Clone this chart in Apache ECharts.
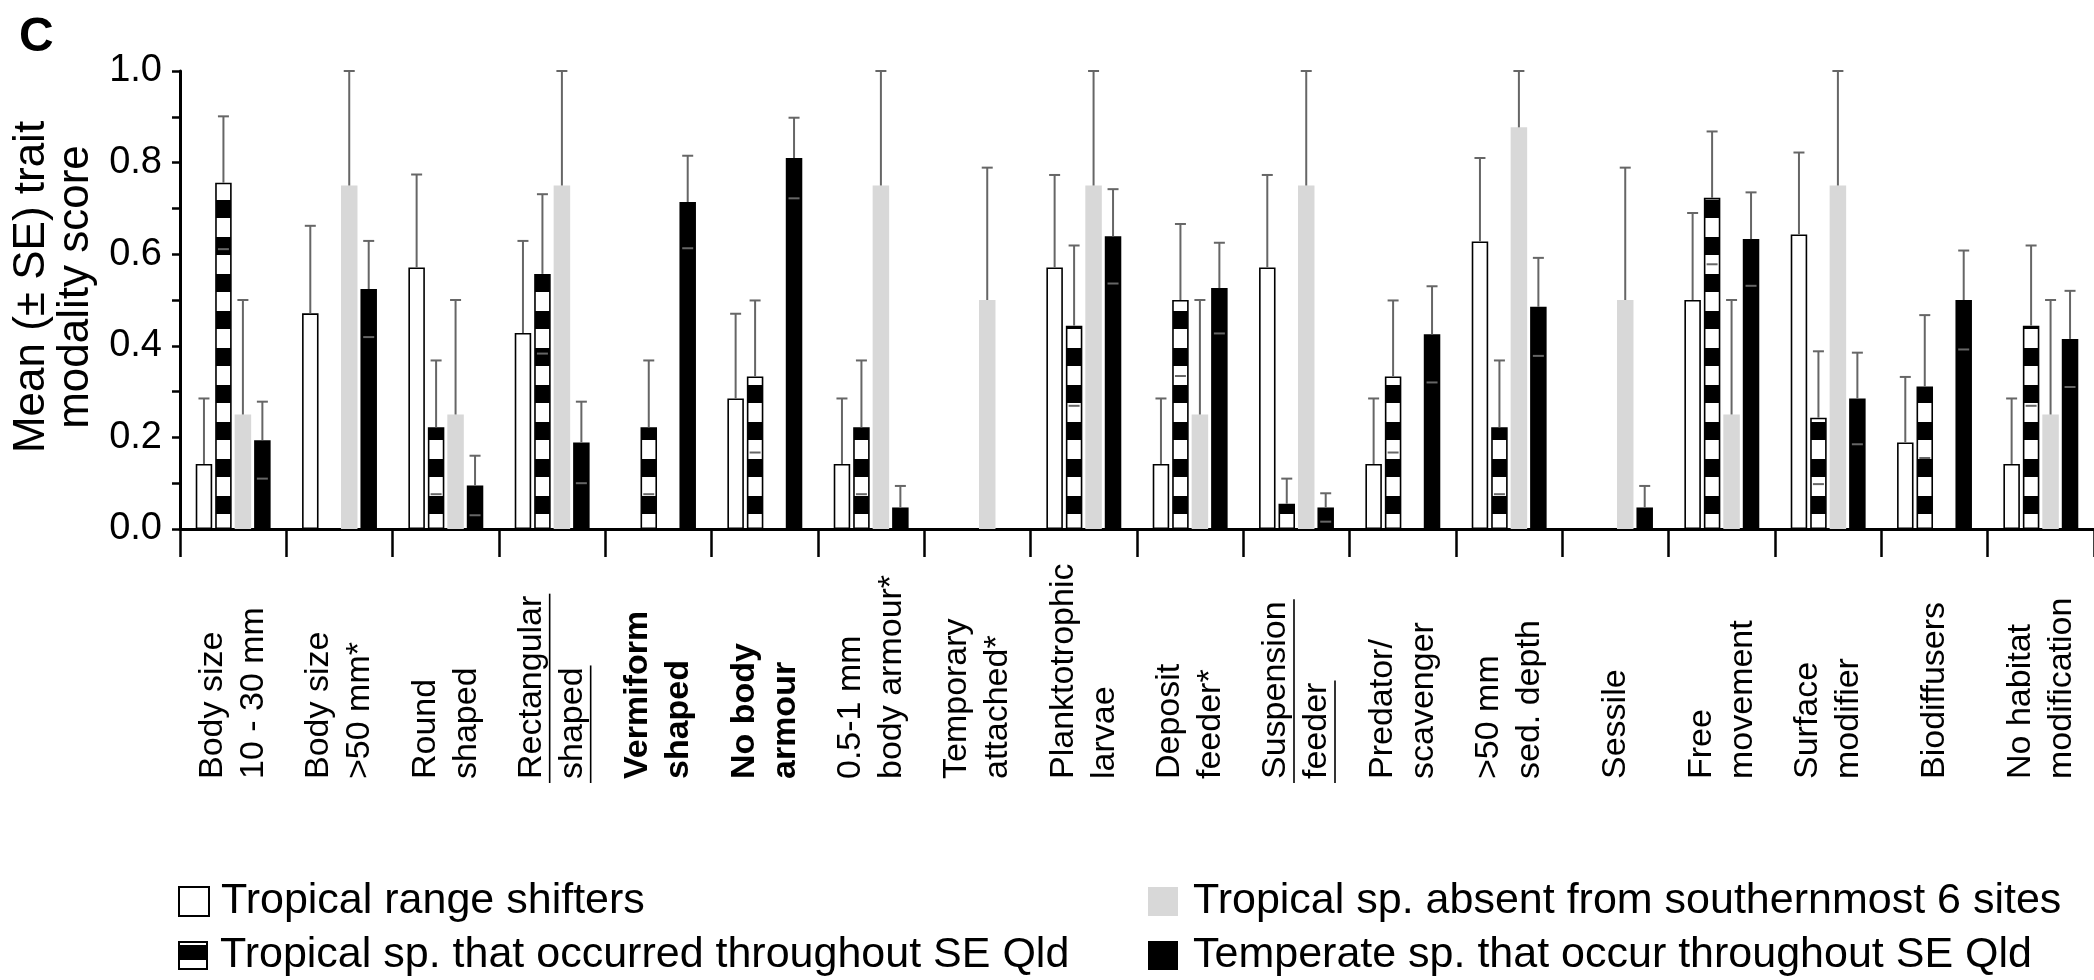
<!DOCTYPE html>
<html><head><meta charset="utf-8">
<script src="https://cdn.jsdelivr.net/npm/echarts@6/dist/echarts.min.js"></script>
<style>html,body{margin:0;padding:0;background:#fff}#c{width:2094px;height:980px}</style>
</head><body><div id="c"></div>
<script>
// ---------- data ----------
const categories = ['Body size\n10 - 30 mm','Body size\n>50 mm*','Round\nshaped','Rectangular\nshaped','Vermiform\nshaped','No body\narmour','0.5-1 mm\nbody armour*','Temporary\nattached*','Planktotrophic\nlarvae','Deposit\nfeeder*','Suspension\nfeeder','Predator/\nscavenger','>50 mm\nsed. depth','Sessile','Free\nmovement','Surface\nmodifier','Biodiffusers','No habitat\nmodification'];
const boldCategories = ['Vermiform\nshaped','No body\narmour'];
const underlinedCategories = ['Rectangular\nshaped','Suspension\nfeeder'];
const seriesNames = ['Tropical range shifters','Tropical sp. that occurred throughout SE Qld','Tropical sp. absent from southernmost 6 sites','Temperate sp. that occur throughout SE Qld'];
const yTicks = ['0.0','0.2','0.4','0.6','0.8','1.0'];

const rangeShifters   = [0.142,0.471,0.571,0.428,null,0.285,0.142,null,0.571,0.142,0.571,0.142,0.628,null,0.5,0.643,0.189,0.142];
const rangeShiftersSE = [0.143,0.191,0.203,0.201,null,0.185,0.143,null,0.202,0.143,0.202,0.143,0.182,null,0.19,0.179,0.143,0.143];
const tropThroughout   = [0.756,null,0.222,0.557,0.222,0.333,0.222,null,0.444,0.5,0.055,0.333,0.222,null,0.723,0.243,0.311,0.444];
const tropThroughoutSE = [0.145,null,0.146,0.174,0.146,0.166,0.146,null,0.175,0.166,0.055,0.166,0.146,null,0.145,0.145,0.156,0.175];
const tropAbsent   = [0.25,0.75,0.25,0.75,null,null,0.75,0.5,0.75,0.25,0.75,null,0.877,0.5,0.25,0.75,null,0.25];
const tropAbsentSE = [0.25,0.25,0.25,0.25,null,null,0.25,0.289,0.25,0.25,0.25,null,0.123,0.289,0.25,0.25,null,0.25];
const temperate   = [0.194,0.524,0.095,0.189,0.714,0.81,0.047,null,0.639,0.526,0.047,0.425,0.485,0.047,0.633,0.285,0.5,0.415];
const temperateSE = [0.084,0.105,0.065,0.089,0.101,0.088,0.047,null,0.103,0.099,0.031,0.105,0.107,0.047,0.102,0.1,0.108,0.105];

const means = [rangeShifters, tropThroughout, tropAbsent, temperate];
const ses = [rangeShiftersSE, tropThroughoutSE, tropAbsentSE, temperateSE];

// ---------- layout / style ----------
const GRID_TOP = 71, GRID_BOTTOM = 451, GRID_LEFT = 180;
const ZERO_Y = 980 - GRID_BOTTOM;
const BAR_W = 16.5, BAR_GAP = 0.18;
const STEP = BAR_W * (1 + BAR_GAP);
const LABEL_FS = 34, LABEL_LH = 41, LABEL_MARGIN = 250;
const FONT = '"Liberation Sans", Arial, Helvetica, sans-serif';

// striped pattern, phase anchored on the zero line
function stripePattern() {
  const P = 37, cv = document.createElement('canvas');
  cv.width = 8; cv.height = P;
  const ctx = cv.getContext('2d');
  for (let y = 0; y < P; y++) {
    const t = (((ZERO_Y - (y + 0.5)) % P) + P) % P;
    ctx.fillStyle = (t < 15 || t >= 33.5) ? '#ffffff' : '#000000';
    ctx.fillRect(0, y, 8, 1);
  }
  return { image: cv, repeat: 'repeat' };
}
// legend swatch for the striped series
function stripeIcon() {
  const cv = document.createElement('canvas');
  cv.width = 30; cv.height = 29;
  const c = cv.getContext('2d');
  c.fillStyle = '#000'; c.fillRect(0, 0, 30, 29);
  c.fillStyle = '#fff';
  c.fillRect(2, 2, 26, 2);
  c.fillRect(2, 19, 26, 8);
  return 'image://' + cv.toDataURL();
}

const styles = [
  { color: '#ffffff', borderColor: '#000', borderWidth: 1.6 },
  { color: stripePattern(), borderColor: '#000', borderWidth: 1.6 },
  { color: '#d8d8d8', borderWidth: 0 },
  { color: '#000000', borderWidth: 0 }
];

const barSeries = means.map((arr, s) => ({
  type: 'bar', name: seriesNames[s],
  data: arr.map(v => v == null ? '-' : v),
  barWidth: BAR_W, barGap: (BAR_GAP * 100) + '%',
  itemStyle: styles[s], z: 2, silent: true
}));

const errData = [];
means.forEach((arr, s) => arr.forEach((v, i) => {
  if (v != null && ses[s][i] != null) errData.push([i, s, v, ses[s][i]]);
}));
const lowerCapSeries = [1, 3];

const errSeries = {
  type: 'custom', name: 'SE', z: 5, silent: true,
  data: errData, encode: { x: 0, y: 2 },
  renderItem: function (params, api) {
    const cat = api.value(0), s = api.value(1), m = api.value(2), se = api.value(3);
    const x = api.coord([cat, 0])[0] + (s - 1.5) * STEP;
    const yM = api.coord([cat, m])[1], yT = api.coord([cat, m + se])[1];
    const st = { stroke: '#666', lineWidth: 2 };
    const ch = [
      { type: 'line', shape: { x1: x, y1: yM, x2: x, y2: yT }, style: st },
      { type: 'line', shape: { x1: x - 5.5, y1: yT, x2: x + 5.5, y2: yT }, style: st }
    ];
    if (lowerCapSeries.indexOf(s) >= 0 && m - se > 0.01) {
      const yL = api.coord([cat, m - se])[1];
      ch.push({ type: 'line', shape: { x1: x - 5.5, y1: yL, x2: x + 5.5, y2: yL }, style: st });
    }
    return { type: 'group', children: ch };
  }
};

const legendPos = [[178, 880], [178, 934], [1148, 880], [1148, 934]];
const legends = seriesNames.map((n, s) => ({
  orient: 'horizontal', left: legendPos[s][0], top: legendPos[s][1], padding: 0,
  itemWidth: 30, itemHeight: 29, icon: 'rect', selectedMode: false,
  data: [s === 1 ? { name: n, icon: stripeIcon() } : n],
  textStyle: { fontSize: 43, fontFamily: FONT, color: '#000', padding: [0, 0, 0, s < 2 ? 7 : 10] }
}));

const chart = echarts.init(document.getElementById('c'), null, { renderer: 'canvas', width: 2094, height: 980 });
chart.setOption({
  animation: false,
  backgroundColor: '#fff',
  title: { text: 'C', left: 14, top: 9, textStyle: { fontSize: 48, fontWeight: 'bold', fontFamily: FONT, color: '#000' } },
  grid: { left: GRID_LEFT, right: 0, top: GRID_TOP, bottom: GRID_BOTTOM, containLabel: false },
  legend: legends,
  xAxis: {
    type: 'category',
    data: categories,
    boundaryGap: true,
    axisLine: { lineStyle: { color: '#000', width: 3 } },
    axisTick: { show: true, length: 28, lineStyle: { color: '#000', width: 2.5 } },
    axisLabel: {
      interval: 0, rotate: 90, align: 'left', verticalAlign: 'middle', margin: LABEL_MARGIN,
      fontSize: LABEL_FS, lineHeight: LABEL_LH, fontFamily: FONT, color: '#000',
      formatter: v => boldCategories.indexOf(v) >= 0
        ? v.split('\n').map(l => '{b|' + l + '}').join('\n') : v,
      rich: { b: { fontWeight: 'bold', fontSize: LABEL_FS, lineHeight: LABEL_LH, fontFamily: FONT, color: '#000' } }
    },
    splitLine: { show: false }
  },
  yAxis: {
    type: 'value', min: 0, max: 1, interval: 0.1,
    axisLine: { show: true, lineStyle: { color: '#000', width: 3 } },
    axisTick: { show: true, length: 8, lineStyle: { color: '#000', width: 2.5 } },
    axisLabel: {
      margin: 18, fontSize: 38, fontFamily: FONT, color: '#000',
      formatter: v => { const k = Math.round(v * 10); return k % 2 === 0 ? yTicks[k / 2] : ''; }
    },
    splitLine: { show: false }
  },
  series: barSeries.concat([errSeries])
});

// y-axis title and underlines of some category labels
(function () {
  const ctx = document.createElement('canvas').getContext('2d');
  ctx.font = LABEL_FS + 'px ' + FONT;
  const els = [{
    type: 'text', x: 54, y: 287, rotation: Math.PI / 2,
    style: { text: 'Mean (± SE) trait\nmodality score', fontSize: 44, lineHeight: 44, fontFamily: FONT,
      fill: '#000', align: 'center', verticalAlign: 'middle' }
  }];
  const base = ZERO_Y + LABEL_MARGIN;
  underlinedCategories.forEach(c => {
    const idx = categories.indexOf(c);
    const cx = chart.convertToPixel({ xAxisIndex: 0 }, idx);
    const lines = c.split('\n');
    lines.forEach((ln, i) => {
      const w = ctx.measureText(ln).width;
      const x = cx + (i - (lines.length - 1) / 2) * LABEL_LH + 18;
      els.push({ type: 'line', shape: { x1: x, y1: base + 4, x2: x, y2: base - w - 2 },
        style: { stroke: '#000', lineWidth: 1.6 } });
    });
  });
  chart.setOption({ graphic: els });
})();
</script>
</body></html>
